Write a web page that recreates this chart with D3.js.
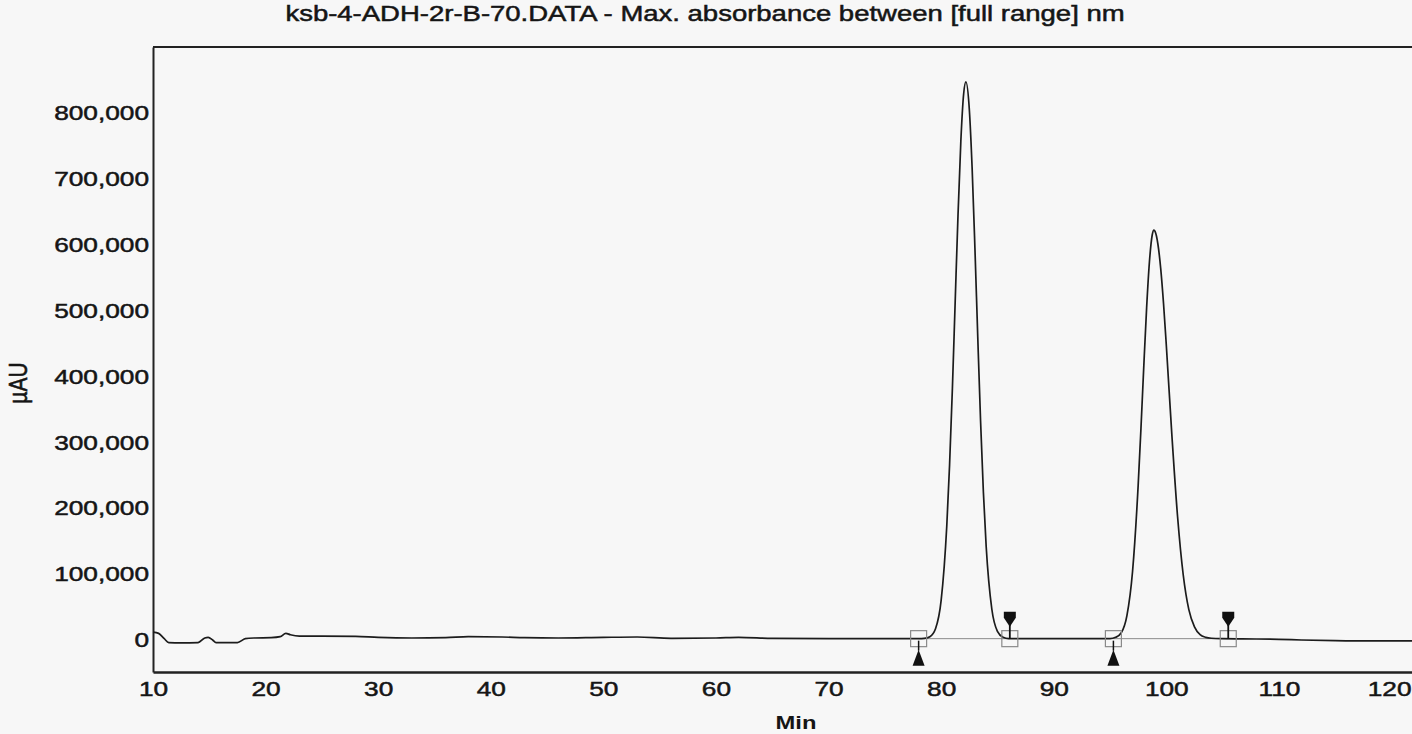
<!DOCTYPE html>
<html><head><meta charset="utf-8">
<script src="https://cdn.jsdelivr.net/npm/d3@7"></script>
<style>
html,body{margin:0;padding:0;background:#fff;overflow:hidden}
text{font-family:"Liberation Sans",Arial,sans-serif;fill:#151515;}
</style>
</head><body>
<svg id="c" width="1412" height="734"></svg>
<script>
const titleText = "ksb-4-ADH-2r-B-70.DATA - Max. absorbance between [full range] nm";
const xLabel = "Min";
const yLabel = "µAU";

const times = [10.0,10.5,11.0,11.4,12.5,14.0,14.6,14.9,15.3,15.6,17.5,18.2,19.0,20.5,21.3,21.8,22.2,23.0,25.0,28.0,
  30.0,33.0,36.0,38.0,41.0,43.0,46.0,50.0,53.0,56.0,60.0,62.0,65.0,70.0,75.0,78.0,78.5,79.0,79.5,80.0,
  80.5,80.75,81.0,81.25,81.5,81.75,82.0,82.2,82.5,82.75,83.0,83.25,83.5,83.75,84.0,84.5,85.0,85.5,86.0,88.0,
  90.0,93.0,95.0,95.5,96.0,96.5,97.0,97.5,97.75,98.0,98.25,98.5,98.75,98.9,99.0,99.25,99.5,99.75,100.0,100.5,
  101.0,101.5,102.0,102.5,103.0,103.5,104.0,105.0,108.0,110.0,112.0,115.0,118.0,122.0];
const absorbance = [12000,10000,2000,-4000,-4500,-4000,3000,4000,0,-4000,-4000,2000,3000,3500,5000,10000,8000,6000,6000,5500,
  4000,3000,3500,5000,4500,3500,3000,4000,4500,2500,3000,4000,2500,2000,2000,2000,2400,5000,17000,60000,
  173000,266000,382000,515000,646000,757000,829000,847000,806000,717000,595000,461000,333000,225000,142000,47000,13000,4000,2000,2000,
  2000,2000,2000,4000,11000,37000,104000,235000,322000,416000,504000,574000,615000,622000,620000,601000,564000,511000,447000,309000,
  187000,99000,46000,20000,8000,4000,2600,2000,1500,1000,0,-1000,-1500,-1500];

const xTicks = [10,20,30,40,50,60,70,80,90,100,110,120];
const yTicks = [0,100000,200000,300000,400000,500000,600000,700000,800000];

const peakStarts = [78.0, 95.3];
const peakEnds = [86.1, 105.5];
const baselineLevel = 2000;

const svg = d3.select("#c");
const W = 1412, H = 734;
const SX = 1.25; // horizontal stretch of the scanned lettering
const INK = "#151515";

const x = d3.scaleLinear().domain([10, 121.82]).range([153, 1412]);
const y = d3.scaleLinear().domain([-48600, 900000]).range([672, 47]);

svg.append("rect").attr("width", W).attr("height", H).attr("fill", "#f7f7f7");

// title
svg.append("g").attr("transform", `translate(705,21) scale(${SX},1)`)
  .append("text").attr("text-anchor", "middle").style("font-size", "22px")
  .attr("stroke", INK).attr("stroke-width", 0.5)
  .text(titleText);

// top frame line
svg.append("line").attr("x1", x.range()[0]).attr("x2", W).attr("y1", y.range()[1]).attr("y2", y.range()[1])
  .attr("stroke", "#222").attr("stroke-width", 2);

// y axis
const yAxis = svg.append("g").attr("transform", `translate(${x.range()[0]},0)`)
  .call(d3.axisLeft(y).tickValues(yTicks).tickSize(0).tickPadding(4).tickFormat(d3.format(",")));
yAxis.select(".domain").attr("stroke", "#222").attr("stroke-width", 2);
yAxis.selectAll("text").style("font-size", "21px").attr("fill", INK)
  .attr("stroke", INK).attr("stroke-width", 0.5)
  .attr("x", -4 / SX).attr("transform", `scale(${SX},1)`);

// x axis
const xAxis = svg.append("g").attr("transform", `translate(0,${y.range()[0]})`)
  .call(d3.axisBottom(x).tickValues(xTicks).tickSize(0).tickPadding(9).tickFormat(d3.format("d")));
xAxis.select(".domain").attr("stroke", "#222").attr("stroke-width", 2.5);
xAxis.selectAll("text").style("font-size", "21px").attr("fill", INK)
  .attr("stroke", INK).attr("stroke-width", 0.5)
  .attr("transform", `scale(${SX},1)`)
  .each(function(d) {
    const half = this.getBBox().width * SX / 2;
    if (x(d) + half > W - 1) {
      d3.select(this).attr("text-anchor", "end").attr("x", (W - 1 - x(d)) / SX);
    }
  });

// axis titles
svg.append("g").attr("transform", `translate(796,729) scale(${SX},1)`)
  .append("text").attr("text-anchor", "middle").style("font-size", "19px").style("font-weight", "bold").text(xLabel);
svg.append("g").attr("transform", `translate(27,383) rotate(-90) scale(1,${SX})`)
  .append("text").attr("text-anchor", "middle").style("font-size", "21px")
  .attr("stroke", INK).attr("stroke-width", 0.5).text(yLabel);

// integration baselines
const by = y(baselineLevel);
svg.append("g").selectAll("line").data(d3.zip(peakStarts, peakEnds)).join("line")
  .attr("x1", d => x(d[0])).attr("x2", d => x(d[1])).attr("y1", by).attr("y2", by)
  .attr("stroke", "#8a8a8a").attr("stroke-width", 1);

// chromatogram trace
const pts = d3.zip(times, absorbance);
svg.append("path").datum(pts)
  .attr("fill", "none").attr("stroke", "#1c1c1c").attr("stroke-width", 1.7)
  .attr("d", d3.line().x(d => x(d[0])).y(d => y(d[1])).curve(d3.curveMonotoneX));

// marker squares
svg.append("g").selectAll("rect").data(peakStarts.concat(peakEnds)).join("rect")
  .attr("x", d => x(d) - 8).attr("y", by - 8).attr("width", 16).attr("height", 16)
  .attr("fill", "none").attr("stroke", "#8a8a8a").attr("stroke-width", 1.2);

// peak start markers (up triangles below baseline)
const startG = svg.append("g").selectAll("g").data(peakStarts).join("g")
  .attr("transform", d => `translate(${x(d)},${by})`);
startG.append("line").attr("x1", 0).attr("x2", 0).attr("y1", 2).attr("y2", 12).attr("stroke", "#111").attr("stroke-width", 1.5);
startG.append("path").attr("d", "M0,11 L6,27 L-6,27 Z").attr("fill", "#111");

// peak end markers (down pennants above baseline)
const endG = svg.append("g").selectAll("g").data(peakEnds).join("g")
  .attr("transform", d => `translate(${x(d)},${by})`);
endG.append("line").attr("x1", 0).attr("x2", 0).attr("y1", -14).attr("y2", 0).attr("stroke", "#111").attr("stroke-width", 1.8);
endG.append("path").attr("d", "M-6,-27 L6,-27 L6,-21 L0,-12 L-6,-21 Z").attr("fill", "#111");
</script>
</body></html>
